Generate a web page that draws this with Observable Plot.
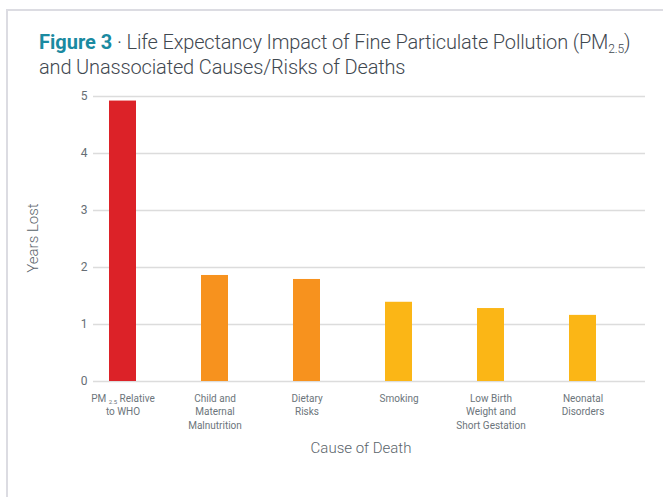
<!DOCTYPE html>
<html>
<head>
<meta charset="utf-8">
<script src="https://cdn.jsdelivr.net/npm/d3@7"></script>
<script src="https://cdn.jsdelivr.net/npm/@observablehq/plot@0.6"></script>
<style>
  html, body { margin: 0; padding: 0; background: #fff; width: 663px; height: 497px; overflow: hidden; }
  body { position: relative; font-family: Roboto, "Noto Sans", sans-serif; }
  #card { position: absolute; left: 6px; top: 9px; width: 720px; height: 600px;
          border-left: 2px solid #dcdce2; border-top: 2px solid #dcdce2; }
  #title { position: absolute; left: 39px; top: 30px; font-size: 20px; line-height: 25px;
           color: #3f4850; font-weight: 300; letter-spacing: -0.15px; white-space: nowrap; }
  #title b { color: #1a8aa1; font-weight: 700; letter-spacing: 0px; }
  #title sub { font-size: 12px; vertical-align: -4px; line-height: 0; }
  #chart { position: absolute; left: 0; top: 85px; }
</style>
</head>
<body>
<div id="card"></div>
<div id="title"><b>Figure 3</b> · Life Expectancy Impact of Fine Particulate Pollution (PM<sub>2.5</sub>)<br>and Unassociated Causes/Risks of Deaths</div>
<div id="chart"></div>
<script>
// Data
const causes = ["PM2.5", "Child", "Dietary", "Smoking", "LowBirth", "Neonatal"];
const tickLabels = [
  "PM 2.5 Relative\nto WHO",
  "Child and\nMaternal\nMalnutrition",
  "Dietary\nRisks",
  "Smoking",
  "Low Birth\nWeight and\nShort Gestation",
  "Neonatal\nDisorders"
];
const yearsLost = [4.92, 1.86, 1.79, 1.39, 1.28, 1.16];
const yTicks = [0, 1, 2, 3, 4, 5];
const yLabel = "Years Lost";
const xLabel = "Cause of Death";

const palette = ["#dc2228", "#f7921e", "#f7921e", "#fbb616", "#fbb616", "#fbb616"];

const data = causes.map((c, i) => ({cause: c, years: yearsLost[i]}));

const W = 663, H = 412;
const chart = Plot.plot({
  width: W,
  height: H,
  marginLeft: 93,
  marginRight: 18,
  marginTop: 11,
  marginBottom: 116,
  style: {fontFamily: "Roboto, sans-serif", background: "transparent", overflow: "visible"},
  x: {domain: causes, paddingInner: 0.706, paddingOuter: 0, insetLeft: 16, insetRight: 48, label: null},
  y: {domain: [0, 5], label: null},
  color: {type: "ordinal", domain: causes, range: palette},
  marks: [
    Plot.ruleY(yTicks, {stroke: "#dcdcdc", strokeWidth: 1.5}),
    Plot.barY(data, {x: "cause", y: "years", fill: "cause"}),
    Plot.axisY({ticks: yTicks, tickSize: 0, tickPadding: 6, fontSize: 12, fill: "#666e74", label: null, tickFormat: d => String(d)}),
    Plot.axisX({tickSize: 0, tickPadding: 11, fontSize: 10, fill: "#6c757b", label: null,
                tickFormat: (d) => tickLabels[causes.indexOf(d)], lineHeight: 1.33})
  ]
});
document.getElementById("chart").appendChild(chart);

const svg = d3.select(chart);
// subscript in PM 2.5 tick label
svg.selectAll("g[aria-label='x-axis tick label'] tspan").each(function() {
  const t = this.textContent;
  if (t.startsWith("PM 2.5")) {
    const el = d3.select(this);
    el.text(null);
    el.append("tspan").text("PM ");
    el.append("tspan").attr("font-size", 6).attr("dy", 2.5).text("2.5");
    el.append("tspan").attr("dy", -2.5).text(" Relative");
  }
});
// axis titles
svg.append("text")
  .attr("transform", `translate(38, ${238 - 85}) rotate(-90)`)
  .attr("text-anchor", "middle")
  .attr("font-size", 15).attr("font-weight", 300)
  .attr("fill", "#5a646b")
  .text(yLabel);
svg.append("text")
  .attr("x", 361).attr("y", 448 - 85 + 5)
  .attr("text-anchor", "middle")
  .attr("font-size", 15).attr("font-weight", 300)
  .attr("fill", "#5a646b")
  .text(xLabel);
</script>
</body>
</html>
